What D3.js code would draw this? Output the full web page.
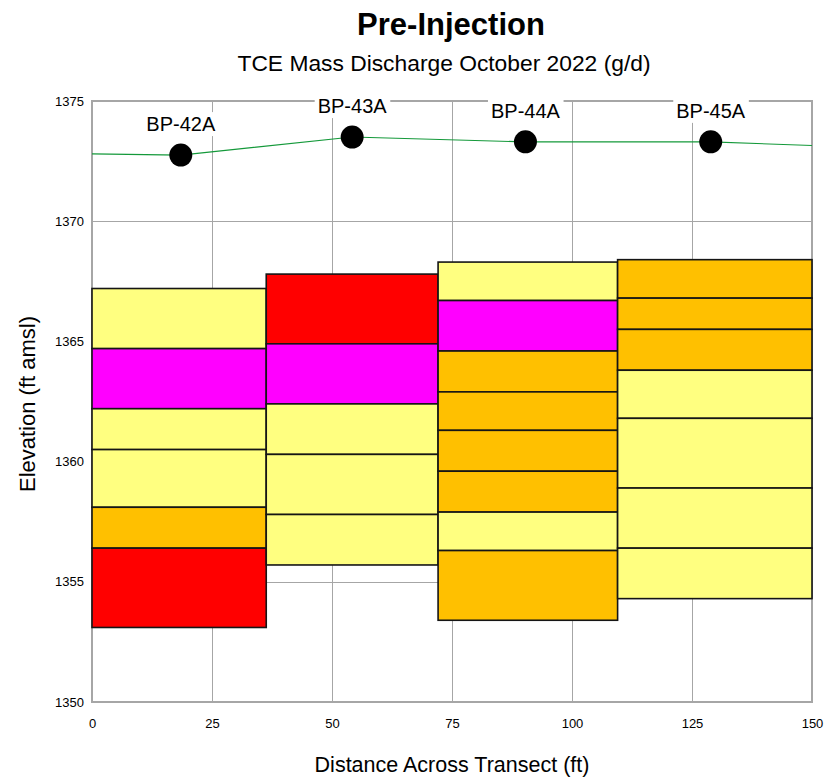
<!DOCTYPE html>
<html>
<head>
<meta charset="utf-8">
<script src="https://cdn.jsdelivr.net/npm/d3@7"></script>
<style>
  body { margin: 0; background: #fff; }
  svg { font-family: 'Liberation Sans', Arial, sans-serif; }
</style>
</head>
<body>
<div id="chart"><svg></svg></div>
<script>
// wells along the transect
const wells = ['BP-42A', 'BP-43A', 'BP-44A', 'BP-45A']
const wellDist = [18.5, 54.2, 90.3, 128.9]
const wellTop = [1372.75, 1373.5, 1373.3, 1373.3]

// water table line
const waterDist = [0, 18.5, 54.2, 90.3, 128.9, 150]
const waterElev = [1372.8, 1372.75, 1373.5, 1373.3, 1373.3, 1373.15]

// column edges (ft across transect)
const colEdges = [0, 36.3, 72.1, 109.5, 150]

// interval boundaries per well, top to bottom (ft amsl)
const bounds42 = [1367.2, 1364.7, 1362.2, 1360.5, 1358.1, 1356.4, 1353.1]
const bounds43 = [1367.8, 1364.9, 1362.4, 1360.3, 1357.8, 1355.7]
const bounds44 = [1368.3, 1366.7, 1364.6, 1362.9, 1361.3, 1359.6, 1357.9, 1356.3, 1353.4]
const bounds45 = [1368.4, 1366.8, 1365.5, 1363.8, 1361.8, 1358.9, 1356.4, 1354.3]

// mass discharge class of each interval, top to bottom
const class42 = ['low', 'high', 'low', 'low', 'mid', 'top']
const class43 = ['top', 'high', 'low', 'low', 'low']
const class44 = ['low', 'high', 'mid', 'mid', 'mid', 'mid', 'low', 'mid']
const class45 = ['mid', 'mid', 'mid', 'low', 'low', 'low', 'low']

const classes = ['low', 'mid', 'high', 'top']
const classColors = ['#ffff80', '#ffc000', '#ff00ff', '#ff0000']

const xTicks = [0, 25, 50, 75, 100, 125, 150]
const yTicks = [1350, 1355, 1360, 1365, 1370, 1375]

const W = 825, H = 780
const margin = { top: 101, right: 13, bottom: 78, left: 92 }
const width = W - margin.left - margin.right
const height = H - margin.top - margin.bottom

const svg = d3.select('#chart svg').attr('width', W).attr('height', H)

const x = d3.scaleLinear().domain([0, 150]).range([0, width])
const y = d3.scaleLinear().domain([1350, 1375]).range([height, 0])
const color = d3.scaleOrdinal().domain(classes).range(classColors)

const g = svg.append('g')
  .attr('transform', 'translate(' + margin.left + ',' + margin.top + ')')

// grid
g.append('g')
  .attr('class', 'grid-x')
  .attr('transform', 'translate(0,' + height + ')')
  .call(d3.axisBottom(x).tickValues(xTicks).tickSize(-height).tickFormat(''))
  .call(s => s.select('.domain').remove())
g.append('g')
  .attr('class', 'grid-y')
  .call(d3.axisLeft(y).tickValues(yTicks).tickSize(-width).tickFormat(''))
  .call(s => s.select('.domain').remove())
g.selectAll('.grid-x line, .grid-y line')
  .attr('stroke', '#a6a6a6')
  .attr('stroke-width', 1.4)
  .attr('shape-rendering', 'crispEdges')

g.append('rect')
  .attr('width', width)
  .attr('height', height)
  .attr('fill', 'none')
  .attr('stroke', '#a6a6a6')
  .attr('stroke-width', 1.4)
  .attr('shape-rendering', 'crispEdges')

// tick labels
g.append('g')
  .attr('transform', 'translate(0,' + height + ')')
  .call(d3.axisBottom(x).tickValues(xTicks).tickSize(0).tickPadding(17))
  .call(s => s.select('.domain').remove())
  .selectAll('text')
  .attr('font-size', '13px')
  .attr('fill', '#000')
  .attr('font-family', null)

g.append('g')
  .call(d3.axisLeft(y).tickValues(yTicks).tickFormat(d3.format('d')).tickSize(0).tickPadding(8))
  .call(s => s.select('.domain').remove())
  .selectAll('text')
  .attr('font-size', '13px')
  .attr('fill', '#000')
  .attr('font-family', null)

// interval blocks
const columns = [
  { bounds: bounds42, cls: class42 },
  { bounds: bounds43, cls: class43 },
  { bounds: bounds44, cls: class44 },
  { bounds: bounds45, cls: class45 }
]
const cells = []
columns.forEach((c, i) => {
  c.cls.forEach((k, j) => {
    cells.push({ x0: colEdges[i], x1: colEdges[i + 1], top: c.bounds[j], bot: c.bounds[j + 1], cls: k })
  })
})

g.append('g')
  .attr('class', 'cells')
  .selectAll('rect')
  .data(cells)
  .enter()
  .append('rect')
  .attr('x', d => x(d.x0))
  .attr('y', d => y(d.top))
  .attr('width', d => x(d.x1) - x(d.x0))
  .attr('height', d => y(d.bot) - y(d.top))
  .attr('fill', d => color(d.cls))
  .attr('stroke', '#151515')
  .attr('stroke-width', 1.6)

// water table
g.append('path')
  .datum(d3.range(waterDist.length))
  .attr('fill', 'none')
  .attr('stroke', '#14993a')
  .attr('stroke-width', 1.1)
  .attr('d', d3.line().x(i => x(waterDist[i])).y(i => y(waterElev[i])))

g.append('g')
  .selectAll('circle')
  .data(wells)
  .enter()
  .append('circle')
  .attr('cx', (d, i) => x(wellDist[i]))
  .attr('cy', (d, i) => y(wellTop[i]))
  .attr('r', 11.5)
  .attr('fill', '#000')

// well labels with white backing
const labels = g.append('g')
  .selectAll('g')
  .data(wells)
  .enter()
  .append('g')
labels.append('rect').attr('fill', '#fff')
labels.append('text')
  .attr('x', (d, i) => x(wellDist[i]))
  .attr('y', (d, i) => y(wellTop[i]) - 24)
  .attr('text-anchor', 'middle')
  .attr('font-size', '20px')
  .text(d => d)
labels.each(function() {
  const b = d3.select(this).select('text').node().getBBox()
  d3.select(this).select('rect')
    .attr('x', b.x - 3)
    .attr('y', b.y - 1)
    .attr('width', b.width + 6)
    .attr('height', b.height + 2)
})

// titles
svg.append('text')
  .attr('x', 451)
  .attr('y', 35)
  .attr('text-anchor', 'middle')
  .attr('font-size', '31px')
  .attr('font-weight', '700')
  .text('Pre-Injection')

svg.append('text')
  .attr('x', 444)
  .attr('y', 71)
  .attr('text-anchor', 'middle')
  .attr('font-size', '22.8px')
  .text('TCE Mass Discharge October 2022 (g/d)')

svg.append('text')
  .attr('x', 452)
  .attr('y', 772)
  .attr('text-anchor', 'middle')
  .attr('font-size', '21.5px')
  .text('Distance Across Transect (ft)')

svg.append('text')
  .attr('transform', 'translate(35,404) rotate(-90)')
  .attr('text-anchor', 'middle')
  .attr('font-size', '22px')
  .text('Elevation (ft amsl)')
</script>
</body>
</html>
